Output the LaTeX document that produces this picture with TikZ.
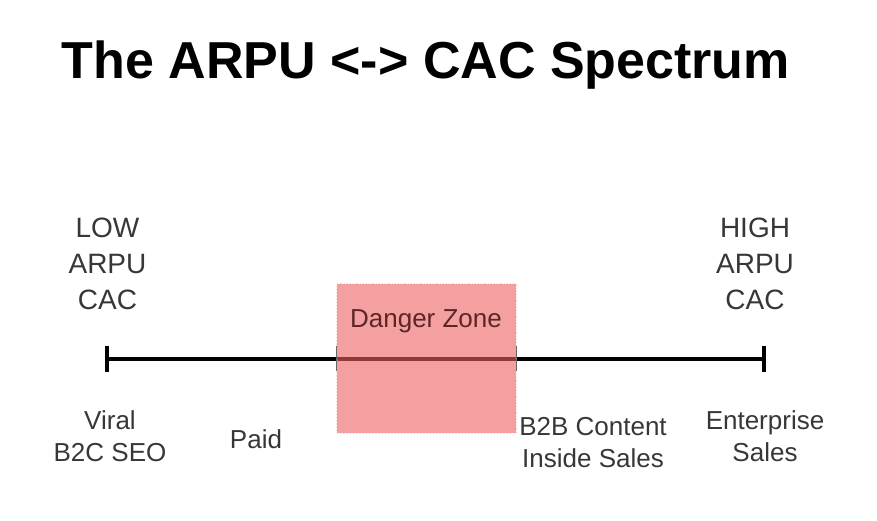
\documentclass[tikz,border=0pt]{standalone}
\usepackage{fontspec}
\setmainfont{Liberation Sans}
\definecolor{labelgray}{RGB}{55,55,55}
\definecolor{dangerred}{RGB}{238,97,97}
\definecolor{dangertext}{RGB}{92,38,38}
\tikzset{
  endlabel/.style={align=center, text=labelgray, font=\fontsize{28}{36}\selectfont},
  method/.style={align=center, text=labelgray, font=\fontsize{26}{32}\selectfont},
  dangerbox/.style={fill=dangerred, fill opacity=0.6, draw=dangerred!60, draw opacity=0.5,
    dotted, line width=1.2pt, minimum width=179pt, minimum height=149pt, inner sep=0pt},
  axisend/.style={line width=4.5pt},
  zoneedge/.style={line width=1.3pt, draw=black!60}
}
\begin{document}
\begin{tikzpicture}[x=1pt, y=-1pt]
    \useasboundingbox (0,0) rectangle (877,520);
    % title
    \node[anchor=base, font=\fontsize{52}{60}\selectfont\bfseries] (title) at (426,78)
      {The ARPU <-> CAC Spectrum};

    % the spectrum axis
    \coordinate (lowend) at (107,359);
    \coordinate (highend) at (764,359);
    \draw[line width=4.5pt] (lowend) -- (highend);
    \draw[axisend] ([yshift=-13pt]lowend) -- ([yshift=13pt]lowend);
    \draw[axisend] ([yshift=-13pt]highend) -- ([yshift=13pt]highend);

    % danger zone on top of the axis
    \node[dangerbox] (danger) at (426.5,358.5) {};
    \draw[zoneedge] ([yshift=-12pt]danger.west) -- ([yshift=13pt]danger.west);
    \draw[zoneedge] ([yshift=-12pt]danger.east) -- ([yshift=13pt]danger.east);
    \node[anchor=base, text=dangertext, font=\fontsize{26}{32}\selectfont] (dangerlabel)
      at (426,327) {Danger Zone};

    % ends of the spectrum
    \node[endlabel] (low) at (107.5,263.5) {LOW\\ARPU\\CAC};
    \node[endlabel] (high) at (755,263.5) {HIGH\\ARPU\\CAC};

    % acquisition methods
    \node[method] (viral) at (110,436) {Viral\\B2C SEO};
    \node[method, anchor=base] (paid) at (256,448) {Paid};
    \node[method] (content) at (593,442.5) {B2B Content\\Inside Sales};
    \node[method] (enterprise) at (765,436.5) {Enterprise\\Sales};
\end{tikzpicture}
\end{document}
